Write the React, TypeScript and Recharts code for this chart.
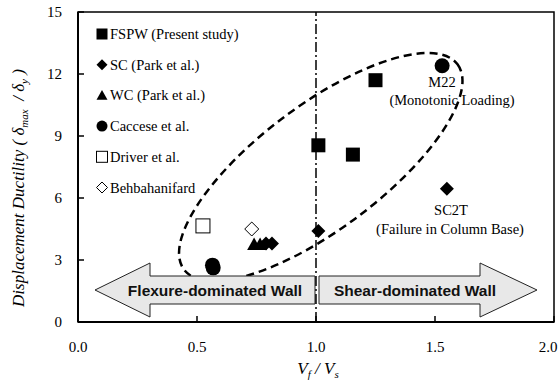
import React from 'react';
import {
  ScatterChart,
  Scatter,
  XAxis,
  YAxis,
  ReferenceLine,
  ReferenceArea,
  Customized,
} from 'recharts';

// axis ticks
const X_TICKS = [0, 0.5, 1.0, 1.5, 2.0];
const Y_TICKS = [0, 3, 6, 9, 12, 15];

// series (Vf/Vs, ductility)
const FSPW = [
  { x: 1.01, y: 8.55 },
  { x: 1.155, y: 8.1 },
  { x: 1.25, y: 11.7 },
];
const SC_PARK = [
  { x: 0.79, y: 3.8 },
  { x: 0.815, y: 3.8 },
  { x: 1.01, y: 4.4 },
  { x: 1.55, y: 6.45 },
];
const WC_PARK = [
  { x: 0.74, y: 3.75 },
  { x: 0.765, y: 3.75 },
];
const CACCESE = [
  { x: 0.565, y: 2.75 },
  { x: 0.568, y: 2.62 },
  { x: 1.53, y: 12.4 },
];
const DRIVER = [{ x: 0.525, y: 4.65 }];
const BEHBAHANI = [{ x: 0.73, y: 4.5 }];

type Kind = 'square' | 'diamond' | 'triangle' | 'circle' | 'openSquare' | 'openDiamond';

const SERIES: { name: string; kind: Kind; data: { x: number; y: number }[] }[] = [
  { name: 'FSPW (Present study)', kind: 'square', data: FSPW },
  { name: 'SC (Park et al.)', kind: 'diamond', data: SC_PARK },
  { name: 'WC (Park et al.)', kind: 'triangle', data: WC_PARK },
  { name: 'Caccese et al.', kind: 'circle', data: CACCESE },
  { name: 'Driver et al.', kind: 'openSquare', data: DRIVER },
  { name: 'Behbahanifard', kind: 'openDiamond', data: BEHBAHANI },
];

const W = 560;
const H = 385;
const PLOT = { left: 78, top: 12, right: 554, bottom: 322 };
const sx = (v: number) => PLOT.left + (v / 2) * (PLOT.right - PLOT.left);
const sy = (v: number) => PLOT.bottom - (v / 15) * (PLOT.bottom - PLOT.top);

const SERIF = '"Liberation Serif", "Times New Roman", serif';
const SANS = '"Liberation Sans", Arial, sans-serif';

const Marker = ({ kind, cx, cy, s }: { kind: Kind; cx: number; cy: number; s: number }) => {
  const h = s / 2;
  switch (kind) {
    case 'square':
      return <rect x={cx - h} y={cy - h} width={s} height={s} fill="#000" />;
    case 'openSquare':
      return <rect x={cx - h} y={cy - h} width={s} height={s} fill="#fff" stroke="#000" strokeWidth={1} />;
    case 'diamond':
      return <polygon points={`${cx},${cy - h} ${cx + h},${cy} ${cx},${cy + h} ${cx - h},${cy}`} fill="#000" />;
    case 'openDiamond':
      return (
        <polygon
          points={`${cx},${cy - h} ${cx + h},${cy} ${cx},${cy + h} ${cx - h},${cy}`}
          fill="#fff"
          stroke="#000"
          strokeWidth={1}
        />
      );
    case 'triangle':
      return <polygon points={`${cx},${cy - h} ${cx + h},${cy + h * 0.8} ${cx - h},${cy + h * 0.8}`} fill="#000" />;
    case 'circle':
      return <circle cx={cx} cy={cy} r={h} fill="#000" />;
  }
  return null;
};

const XTick = (props: any) => {
  const { x, y, payload } = props;
  return (
    <g>
      <line x1={x} y1={y} x2={x} y2={y - 6} stroke="#000" strokeWidth={1.5} />
      <text x={Math.min(x, W - 12)} y={y + 30} textAnchor="middle" fontFamily={SERIF} fontSize={15} fill="#000">
        {Number(payload.value).toFixed(1)}
      </text>
    </g>
  );
};

const YTick = (props: any) => {
  const { x, y, payload } = props;
  return (
    <g>
      <line x1={x} y1={y} x2={x + 6} y2={y} stroke="#000" strokeWidth={1.5} />
      <text x={x - 16} y={y + 5} textAnchor="end" fontFamily={SERIF} fontSize={15} fill="#000">
        {payload.value}
      </text>
    </g>
  );
};

// dashed envelope + region arrows
const Background = () => {
  const cx = sx(1.02);
  const cy = sy(7.5);
  const mid = sx(1.0);
  const yTop = 276;
  const yBot = 304;
  const hTop = 263;
  const hBot = 317;
  const yMid = 290;
  const leftArrow = `M${mid - 1},${yTop} L150,${yTop} L150,${hTop} L95,${yMid} L150,${hBot} L150,${yBot} L${mid - 1},${yBot} Z`;
  const rightArrow = `M${mid + 3},${yTop} L480,${yTop} L480,${hTop} L537,${yMid} L480,${hBot} L480,${yBot} L${mid + 3},${yBot} Z`;
  return (
    <g>
      <ellipse
        cx={cx}
        cy={cy}
        rx={171}
        ry={62}
        transform={`rotate(-36.9 ${cx} ${cy})`}
        fill="none"
        stroke="#000"
        strokeWidth={2.5}
        strokeDasharray="8 5"
      />
      <path d={leftArrow} fill="#e8e8e8" stroke="#222" strokeWidth={1} />
      <path d={rightArrow} fill="#e8e8e8" stroke="#222" strokeWidth={1} />
      <text x={215} y={296} textAnchor="middle" fontFamily={SANS} fontWeight="bold" fontSize={15.5} fill="#111">
        Flexure-dominated Wall
      </text>
      <text x={415} y={296} textAnchor="middle" fontFamily={SANS} fontWeight="bold" fontSize={15.5} fill="#111">
        Shear-dominated Wall
      </text>
    </g>
  );
};

const T = (props: any) => <text fontFamily={SERIF} fill="#000" fontSize={14.5} textAnchor="middle" {...props} />;

const Overlay = () => (
  <g>
    {SERIES.map((s, i) => {
      const y = 34 + i * 30.7;
      return (
        <g key={s.name}>
          <Marker kind={s.kind} cx={102} cy={y} s={11} />
          <T x={110} y={y + 5} textAnchor="start">
            {s.name}
          </T>
        </g>
      );
    })}
    <T x={442} y={87}>M22</T>
    <T x={452} y={105}>(Monotonic Loading)</T>
    <T x={451} y={215}>SC2T</T>
    <T x={450} y={234}>(Failure in Column Base)</T>
    <T x={318} y={374} fontSize={17} fontStyle="italic">
      V<tspan fontSize={11} dy={4}>f</tspan>
      <tspan dy={-4}> / V</tspan>
      <tspan fontSize={11} dy={4}>s</tspan>
    </T>
    <T transform="translate(24,188) rotate(-90)" fontSize={17} fontStyle="italic">
      Displacement Ductility ( δ<tspan fontSize={11} dy={4}>max</tspan>
      <tspan dy={-4}>{'\u00a0\u00a0/ δ'}</tspan>
      <tspan fontSize={11} dy={4}>y</tspan>
      <tspan dy={-4}> )</tspan>
    </T>
  </g>
);

export default function App() {
  return (
    <div style={{ position: 'absolute', left: 0, top: 0, background: '#fff' }}>
      <ScatterChart
        width={W}
        height={H}
        margin={{ top: PLOT.top, right: W - PLOT.right, bottom: 23, left: 0 }}
      >
        <XAxis
          type="number"
          dataKey="x"
          domain={[0, 2]}
          ticks={X_TICKS}
          height={H - PLOT.bottom - 23}
          tickSize={0}
          tickMargin={0}
          tickLine={false}
          tick={<XTick />}
          axisLine={{ stroke: '#000', strokeWidth: 2 }}
          allowDataOverflow
        />
        <YAxis
          type="number"
          dataKey="y"
          domain={[0, 15]}
          ticks={Y_TICKS}
          width={PLOT.left}
          tickSize={0}
          tickMargin={0}
          tickLine={false}
          tick={<YTick />}
          axisLine={{ stroke: '#000', strokeWidth: 2 }}
          allowDataOverflow
        />
        <ReferenceArea x1={0} x2={2} y1={0} y2={15} fill="none" stroke="#000" strokeWidth={1.5} />
        <Customized component={Background} />
        <ReferenceLine x={1} stroke="#000" strokeWidth={1.5} strokeDasharray="10 3 2 3" />
        {SERIES.map((s) => (
          <Scatter
            key={s.name}
            name={s.name}
            data={s.data}
            isAnimationActive={false}
            shape={(p: any) => <Marker kind={s.kind} cx={p.cx} cy={p.cy} s={s.kind === 'circle' ? 15 : 14} />}
          />
        ))}
        <Customized component={Overlay} />
      </ScatterChart>
    </div>
  );
}
